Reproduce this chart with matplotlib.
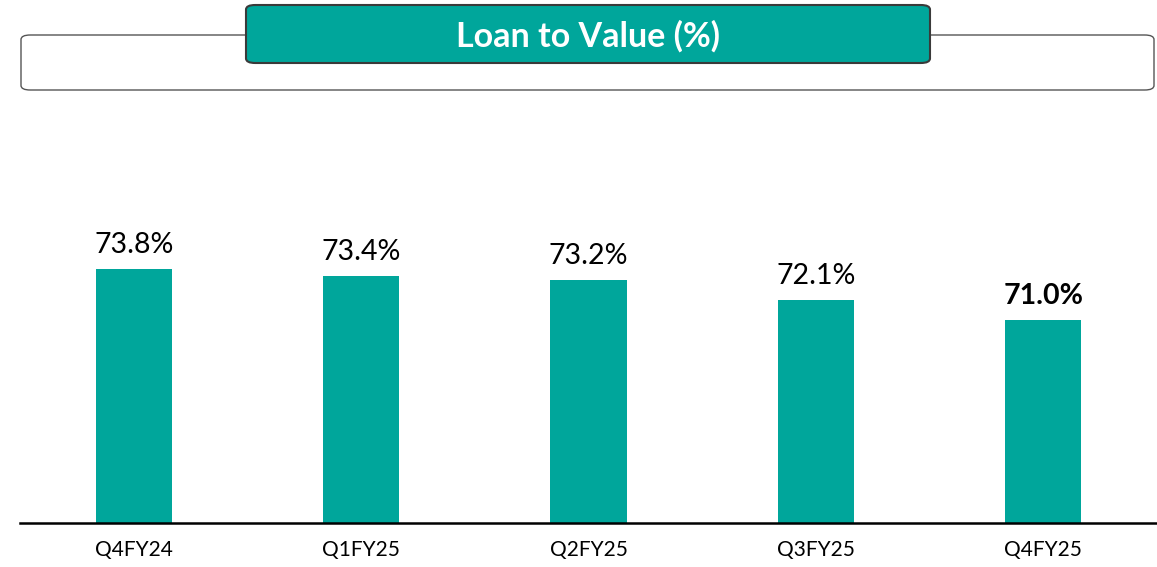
import matplotlib.pyplot as plt
from matplotlib.patches import FancyBboxPatch

quarters = ['Q4FY24', 'Q1FY25', 'Q2FY25', 'Q3FY25', 'Q4FY25']
ltv = [73.8, 73.4, 73.2, 72.1, 71.0]
labels = ['73.8%', '73.4%', '73.2%', '72.1%', '71.0%']

teal = '#00A69B'
plt.rcParams['font.family'] = ['Lato', 'DejaVu Sans']

fig = plt.figure(figsize=(11.57, 5.67), dpi=100)
W, H = 1157, 567

# header: outer rounded frame plus teal title box
outer = FancyBboxPatch((21 / W, 1 - 90 / H), 1133 / W, 55 / H,
                       boxstyle='round,pad=0,rounding_size=0.008',
                       transform=fig.transFigure, facecolor='white',
                       edgecolor='#555555', linewidth=1.0)
fig.patches.append(outer)
title_box = FancyBboxPatch((246 / W, 1 - 63 / H), 684 / W, 58 / H,
                           boxstyle='round,pad=0,rounding_size=0.008',
                           transform=fig.transFigure, facecolor=teal,
                           edgecolor='#3a3a3a', linewidth=1.5)
fig.patches.append(title_box)
fig.text(588 / W, 1 - 36 / H, 'Loan to Value (%)', color='white',
         fontsize=24.5, fontweight='bold', ha='center', va='center')

ax = fig.add_axes([20 / W, 44 / H, 1137 / W, 423 / H])
x = range(len(quarters))
bars = ax.bar(x, ltv, width=0.335, color=teal, bottom=0)
ax.set_ylim(59.84, 59.84 + 423 / 18.2)
ax.set_xlim(-0.5, len(quarters) - 0.5)

for i, (b, lab) in enumerate(zip(bars, labels)):
    bold = i == len(labels) - 1
    ax.annotate(lab, (b.get_x() + b.get_width() / 2, b.get_height()),
                xytext=(0, 8), textcoords='offset points', ha='center',
                va='bottom', fontsize=20.5,
                fontweight='bold' if bold else 'normal', color='black')

ax.set_xticks(list(x))
ax.set_xticklabels(quarters, fontsize=15)
ax.tick_params(axis='x', length=0, pad=12)
ax.set_yticks([])
for s in ['top', 'right', 'left']:
    ax.spines[s].set_visible(False)
ax.spines['bottom'].set_linewidth(1.8)
ax.spines['bottom'].set_color('black')

fig.savefig('out.png', dpi=100)
